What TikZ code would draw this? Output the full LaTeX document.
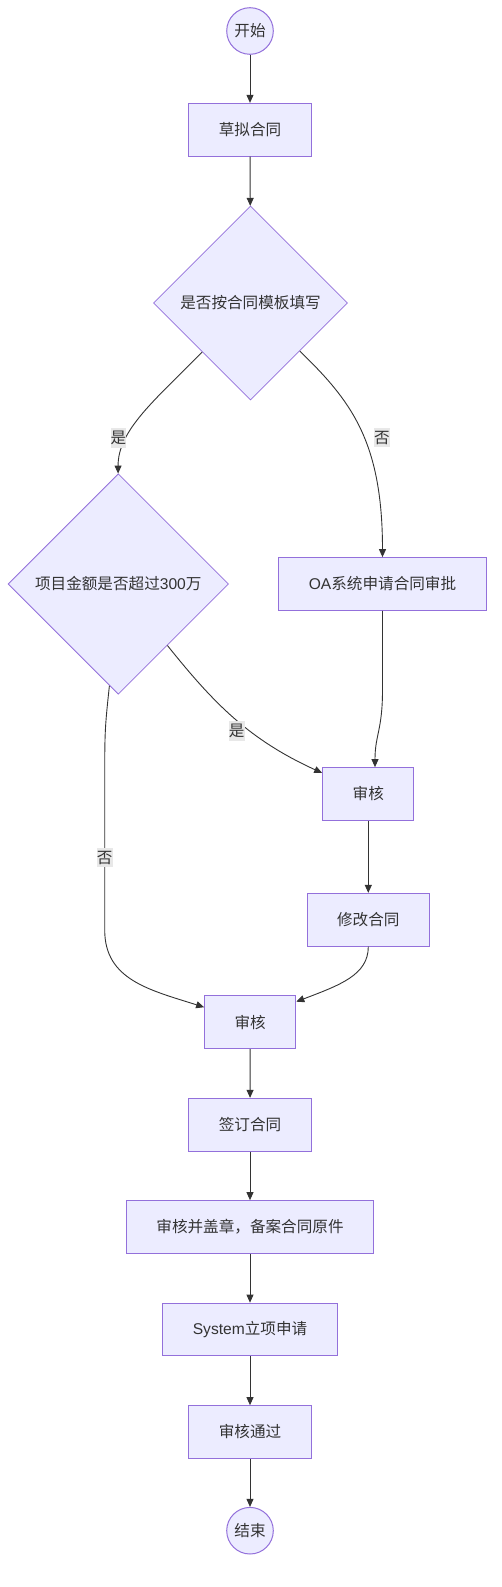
\documentclass[tikz,border=0pt]{standalone}
\usepackage{fontspec}
\setmainfont{Liberation Sans}
\newfontfamily\cjk{Noto Sans CJK SC}
\newcommand{\zh}[1]{{\cjk #1}}
\usetikzlibrary{shapes.geometric,arrows.meta}

\definecolor{boxfill}{HTML}{ECECFF}
\definecolor{boxline}{HTML}{9370DB}
\definecolor{ink}{HTML}{333333}
\definecolor{lblfill}{HTML}{E8E8E8}

\begin{document}
\begin{tikzpicture}[x=1pt,y=-1pt,font=\fontsize{15.6}{18.7}\selectfont,text=ink,
    box/.style={shape=rectangle, draw=boxline, fill=boxfill, line width=1pt, inner xsep=30pt, inner ysep=0pt, minimum height=52.7pt},
    term/.style={circle, draw=boxline, fill=boxfill, line width=1pt, inner sep=0pt, minimum size=46.6pt},
    ask/.style={diamond, aspect=1, draw=boxline, fill=boxfill, line width=0.8pt, inner sep=0pt},
    flow/.style={draw=ink, line width=0.9pt, -{Triangle[length=8pt,width=7pt]}},
    lbl/.style={fill=lblfill, inner xsep=0pt, inner ysep=3pt}]

\useasboundingbox (0,0) rectangle (502,1587);

%%%%%%%%%%%%%%%%%%%% Upper part %%%%%%%%%%%%%%%%%%%%%%%%%%

\node[term] (start) at (250,31) {\zh{开始}};
\node[box] (draft) at (250,129.7) {\zh{草拟合同}};

%decision nodes
\node[ask, minimum size=194pt] (q1) at (250.5,303) {\zh{是否按合同模板填写}};
\node[ask, minimum size=220.5pt] (q2) at (118.3,584) {\zh{项目金额是否超过}300\zh{万}};

\node[box] (oa) at (382.5,584) {OA\zh{系统申请合同审批}};
\node[box] (rev1) at (368.3,794) {\zh{审核}};
\node[box] (fix) at (368.3,919.7) {\zh{修改合同}};
\node[box] (rev2) at (250.2,1022.2) {\zh{审核}};

%%%%%%%%%%%%%%%%%%%% Lower column %%%%%%%%%%%%%%%%%%%%%%%%%

\foreach \name/\y/\txt in {sign/1124.7/{\zh{签订合同}}, archive/1227/{\zh{审核并盖章，备案合同原件}}, sys/1329.5/{System\zh{立项申请}}, pass/1432/{\zh{审核通过}}}
{
    \node[box] (\name) at (250,\y) {\txt};
}

\node[term] (stop) at (250,1530.7) {\zh{结束}};

%%%%%%%%%%%%%%%%%%%% Connectors %%%%%%%%%%%%%%%%%%%%%%%%%%

%straight ones
\foreach \a/\b in {start/draft, draft/q1, rev1/fix, rev2/sign, sign/archive, archive/sys, sys/pass, pass/stop}
{
    \draw[flow] (\a) -- (\b);
}

%curved ones
\draw[flow] (q1) .. controls (155,400) and (118,430) .. (q2);
\draw[flow] (q1) .. controls (350,400) and (382.5,440) .. (oa);
\draw[flow] (q2) .. controls (215,705) and (250,740) .. (rev1);
\draw[flow] (oa) -- (382.5,690) .. controls (382.5,730) and (375,735) .. (rev1.76);
\draw[flow] (fix) .. controls (368.3,975) and (340,985) .. (rev2.24);
\draw[flow] (q2.265) .. controls (104.7,730) .. (104.7,790) -- (104.7,930) .. controls (104.7,980) and (150,990) .. (rev2.162);

%edge labels
\node[lbl] (yes1) at (118.3,437.7) {\zh{是}};
\node[lbl] (no1) at (382,437.7) {\zh{否}};
\node[lbl] (yes2) at (236.7,730.7) {\zh{是}};
\node[lbl] (no2) at (104.7,857.7) {\zh{否}};

\end{tikzpicture}
\end{document}
